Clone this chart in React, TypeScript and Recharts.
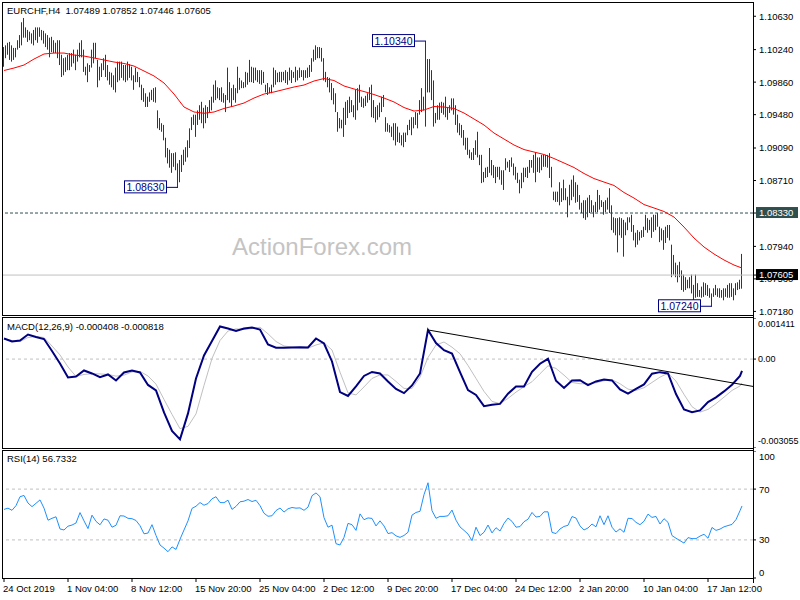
import { ComposedChart, Bar, Line, XAxis, YAxis, ReferenceLine, ReferenceDot } from 'recharts'

// H4 bars, one per slot (oldest first)
const BAR_HIGH = [
  1.1027, 1.1029, 1.1032, 1.1033, 1.1029, 1.1026, 1.1026, 1.1035, 1.1041, 1.1056,
  1.1061, 1.1050, 1.1047, 1.1045, 1.1043, 1.1047, 1.1050, 1.1050, 1.1050, 1.1047,
  1.1046, 1.1043, 1.1041, 1.1038, 1.1039, 1.1035, 1.1032, 1.1035, 1.1035, 1.1018,
  1.1014, 1.1015, 1.1018, 1.1020, 1.1020, 1.1024, 1.1018, 1.1024, 1.1032, 1.1035,
  1.1024, 1.1004, 1.1008, 1.1006, 1.1024, 1.1032, 1.1032, 1.1012, 1.1004, 1.1008,
  1.1014, 1.1018, 1.1006, 1.0998, 1.0997, 1.0994, 1.1003, 1.1010, 1.1010, 1.1010,
  1.1006, 1.1006, 1.1010, 1.1007, 1.1004, 1.0994, 1.1003, 1.0998, 1.0992, 1.0983,
  1.0979, 1.0973, 1.0969, 1.0974, 1.0977, 1.0979, 1.0980, 1.0953, 1.0944, 1.0938,
  1.0936, 1.0921, 1.0909, 1.0907, 1.0903, 1.0903, 1.0904, 1.0891, 1.0895, 1.0901,
  1.0907, 1.0910, 1.0918, 1.0932, 1.0945, 1.0948, 1.0948, 1.0953, 1.0959, 1.0963,
  1.0956, 1.0959, 1.0957, 1.0965, 1.0969, 1.0983, 1.0988, 1.0980, 1.0979, 1.0980,
  1.0973, 1.0971, 1.1003, 1.0986, 1.0979, 1.0983, 1.0979, 1.1004, 1.0991, 1.0988,
  1.0986, 1.0998, 1.0997, 1.1012, 1.1004, 1.1003, 1.1003, 1.1000, 1.1000, 1.1000,
  1.0998, 1.0983, 1.0985, 1.0980, 1.0983, 1.1003, 1.1000, 1.0997, 1.0998, 1.0998,
  1.0998, 1.1000, 1.0998, 1.1003, 1.1000, 1.0998, 1.1004, 1.1000, 1.1003, 1.1000,
  1.1000, 1.1000, 1.1003, 1.1006, 1.1014, 1.1024, 1.1029, 1.1027, 1.1027, 1.1026,
  1.1014, 1.0998, 1.0992, 1.0991, 1.0985, 1.0979, 1.0973, 1.0951, 1.0944, 1.0942,
  1.0956, 1.0963, 1.0965, 1.0969, 1.0965, 1.0959, 1.0977, 1.0979, 1.0983, 1.0969,
  1.0967, 1.0970, 1.0973, 1.0980, 1.0983, 1.0965, 1.0957, 1.0959, 1.0962, 1.0969,
  1.0971, 1.0945, 1.0938, 1.0936, 1.0934, 1.0938, 1.0938, 1.0934, 1.0927, 1.0924,
  1.0927, 1.0927, 1.0936, 1.0942, 1.0945, 1.0945, 1.0951, 1.0950, 1.0965, 1.0979,
  1.0969, 1.1034, 1.1013, 1.1013, 1.1000, 1.0988, 1.0950, 1.0959, 1.0962, 1.0963,
  1.0962, 1.0969, 1.0957, 1.0959, 1.0967, 1.0967, 1.0959, 1.0948, 1.0938, 1.0936,
  1.0930, 1.0921, 1.0921, 1.0907, 1.0904, 1.0909, 1.0918, 1.0928, 1.0901, 1.0901,
  1.0881, 1.0886, 1.0887, 1.0909, 1.0895, 1.0889, 1.0887, 1.0887, 1.0887, 1.0883,
  1.0883, 1.0897, 1.0893, 1.0895, 1.0898, 1.0891, 1.0887, 1.0880, 1.0872, 1.0880,
  1.0886, 1.0886, 1.0887, 1.0895, 1.0895, 1.0901, 1.0904, 1.0898, 1.0898, 1.0901,
  1.0901, 1.0901, 1.0901, 1.0903, 1.0887, 1.0858, 1.0858, 1.0858, 1.0869, 1.0862,
  1.0872, 1.0862, 1.0852, 1.0866, 1.0872, 1.0877, 1.0869, 1.0866, 1.0854, 1.0845,
  1.0848, 1.0848, 1.0851, 1.0854, 1.0848, 1.0842, 1.0846, 1.0860, 1.0854, 1.0848,
  1.0846, 1.0848, 1.0851, 1.0862, 1.0842, 1.0828, 1.0827, 1.0827, 1.0828, 1.0827,
  1.0825, 1.0822, 1.0828, 1.0828, 1.0831, 1.0819, 1.0810, 1.0813, 1.0811, 1.0813,
  1.0817, 1.0831, 1.0827, 1.0825, 1.0828, 1.0831, 1.0831, 1.0833, 1.0817, 1.0815,
  1.0813, 1.0817, 1.0819, 1.0819, 1.0796, 1.0784, 1.0775, 1.0772, 1.0776, 1.0766,
  1.0761, 1.0758, 1.0755, 1.0758, 1.0761, 1.0749, 1.0761, 1.0751, 1.0743, 1.0747,
  1.0752, 1.0751, 1.0749, 1.0745, 1.0739, 1.0745, 1.0749, 1.0745, 1.0745, 1.0743,
  1.0745, 1.0745, 1.0749, 1.0751, 1.0751, 1.0745, 1.0751, 1.0752, 1.0755, 1.07852,
]

const BAR_LOW = [
  1.1004, 1.1014, 1.1018, 1.1012, 1.1010, 1.1012, 1.1015, 1.1024, 1.1026, 1.1029,
  1.1038, 1.1038, 1.1033, 1.1035, 1.1031, 1.1029, 1.1035, 1.1032, 1.1039, 1.1035,
  1.1031, 1.1027, 1.1024, 1.1015, 1.1021, 1.1020, 1.1020, 1.1014, 1.1006, 1.0992,
  1.0994, 1.0998, 1.1000, 1.1000, 1.1004, 1.1008, 1.1000, 1.1010, 1.1015, 1.1015,
  1.0998, 1.0994, 1.0986, 1.0998, 1.1003, 1.1008, 1.1014, 1.0980, 1.0988, 1.0992,
  1.1000, 1.0992, 1.0988, 1.0983, 1.0980, 1.0977, 1.0974, 1.0986, 1.0988, 1.0991,
  1.0988, 1.0986, 1.0988, 1.0991, 1.0988, 1.0977, 1.0986, 1.0986, 1.0980, 1.0965,
  1.0963, 1.0957, 1.0957, 1.0963, 1.0965, 1.0963, 1.0962, 1.0932, 1.0930, 1.0928,
  1.0918, 1.0898, 1.0891, 1.0886, 1.0880, 1.0887, 1.0883, 1.0863, 1.0869, 1.0881,
  1.0889, 1.0893, 1.0898, 1.0909, 1.0930, 1.0936, 1.0922, 1.0936, 1.0942, 1.0938,
  1.0932, 1.0938, 1.0944, 1.0951, 1.0953, 1.0962, 1.0965, 1.0967, 1.0965, 1.0963,
  1.0962, 1.0951, 1.0965, 1.0962, 1.0957, 1.0965, 1.0962, 1.0973, 1.0977, 1.0979,
  1.0979, 1.0980, 1.0983, 1.0986, 1.0986, 1.0985, 1.0988, 1.0986, 1.0984, 1.0983,
  1.0985, 1.0974, 1.0971, 1.0973, 1.0973, 1.0980, 1.0983, 1.0986, 1.0986, 1.0986,
  1.0988, 1.0985, 1.0983, 1.0988, 1.0985, 1.0991, 1.0986, 1.0988, 1.0991, 1.0992,
  1.0988, 1.0991, 1.0991, 1.0992, 1.0998, 1.1010, 1.1012, 1.1014, 1.1014, 1.1010,
  1.0988, 1.0986, 1.0980, 1.0974, 1.0965, 1.0960, 1.0951, 1.0928, 1.0932, 1.0932,
  1.0922, 1.0936, 1.0944, 1.0950, 1.0951, 1.0945, 1.0942, 1.0953, 1.0962, 1.0957,
  1.0956, 1.0958, 1.0962, 1.0965, 1.0945, 1.0944, 1.0939, 1.0942, 1.0945, 1.0951,
  1.0957, 1.0928, 1.0928, 1.0927, 1.0922, 1.0918, 1.0912, 1.0916, 1.0915, 1.0912,
  1.0910, 1.0916, 1.0924, 1.0930, 1.0924, 1.0932, 1.0936, 1.0932, 1.0948, 1.0951,
  1.0953, 1.0934, 1.0974, 1.0974, 1.0965, 1.0934, 1.0938, 1.0942, 1.0942, 1.0950,
  1.0948, 1.0945, 1.0942, 1.0950, 1.0953, 1.0948, 1.0936, 1.0927, 1.0924, 1.0921,
  1.0912, 1.0907, 1.0901, 1.0897, 1.0895, 1.0895, 1.0901, 1.0898, 1.0889, 1.0868,
  1.0869, 1.0874, 1.0875, 1.0880, 1.0877, 1.0874, 1.0868, 1.0875, 1.0872, 1.0866,
  1.0860, 1.0883, 1.0886, 1.0881, 1.0887, 1.0877, 1.0872, 1.0868, 1.0856, 1.0862,
  1.0869, 1.0875, 1.0874, 1.0880, 1.0886, 1.0880, 1.0869, 1.0881, 1.0880, 1.0883,
  1.0887, 1.0887, 1.0886, 1.0874, 1.0863, 1.0848, 1.0846, 1.0846, 1.0842, 1.0846,
  1.0848, 1.0848, 1.0828, 1.0842, 1.0848, 1.0852, 1.0845, 1.0846, 1.0837, 1.0833,
  1.0827, 1.0825, 1.0828, 1.0833, 1.0834, 1.0828, 1.0834, 1.0834, 1.0837, 1.0840,
  1.0831, 1.0834, 1.0837, 1.0833, 1.0813, 1.0810, 1.0807, 1.0787, 1.0807, 1.0804,
  1.0782, 1.0807, 1.0813, 1.0822, 1.0811, 1.0801, 1.0793, 1.0796, 1.0801, 1.0804,
  1.0805, 1.0813, 1.0810, 1.0813, 1.0804, 1.0811, 1.0813, 1.0817, 1.0799, 1.0801,
  1.0790, 1.0798, 1.0804, 1.0801, 1.0758, 1.0761, 1.0758, 1.0752, 1.0758, 1.0743,
  1.0741, 1.0743, 1.0745, 1.0745, 1.0739, 1.0731, 1.0734, 1.0735, 1.0735, 1.0734,
  1.0735, 1.0737, 1.0736, 1.0734, 1.0724, 1.0735, 1.0737, 1.0735, 1.0734, 1.0734,
  1.0731, 1.0735, 1.0734, 1.0734, 1.0735, 1.0731, 1.0737, 1.0743, 1.0744, 1.07446,
]

// moving average, read every 5th bar (+ last bar)
const EMA_STEP = 5
const EMA = [
  1.09996, 1.10025, 1.1006, 1.1013, 1.10189, 1.102, 1.102, 1.10177, 1.10165, 1.10142,
  1.10119, 1.10095, 1.10078, 1.10048, 1.0999, 1.09932, 1.0985, 1.09721, 1.09569, 1.09511,
  1.09496, 1.09511, 1.09552, 1.09581, 1.09616, 1.09674, 1.09721, 1.09745, 1.09774, 1.09803,
  1.09826, 1.09873, 1.09902, 1.09879, 1.09815, 1.0978, 1.0975, 1.09715, 1.09674, 1.09628,
  1.09563, 1.09522, 1.09534, 1.09575, 1.09569, 1.09552, 1.09499, 1.09429, 1.09359, 1.09265,
  1.09195, 1.09125, 1.09072, 1.09043, 1.09014, 1.08967, 1.08915, 1.08862, 1.08792, 1.08733,
  1.08692, 1.08652, 1.0857, 1.08505, 1.08429, 1.08389, 1.08348, 1.08283, 1.08166, 1.08038,
  1.07933, 1.07851, 1.07781, 1.07722, 1.07687,
]

// MACD(12,26,9), read every 4th bar (+ last bar)
const MACD_STEP = 4
const MACD_MAIN = [
  0.000707, 0.000604, 0.000638, 0.000844, 0.000758, 0.000689, 0.000278, -0.000151, -0.000631, -0.000597,
  -0.000391, -0.000494, -0.000621, -0.000528, -0.000734, -0.00046, -0.000391, -0.00046, -0.000888, -0.001077,
  -0.001832, -0.002466, -0.002758, -0.001866, -0.000665, 0.000123, 0.000621, 0.001118, 0.00105, 0.000964,
  0.00105, 0.001084, 0.001015, 0.000501, 0.000388, 0.000388, 0.000398, 0.000408, 0.000398, 0.000707,
  0.000535, -0.000082, -0.001135, -0.001266, -0.00094, -0.00058, -0.000442, -0.000494, -0.000768, -0.001026,
  -0.00117, -0.000906, -0.000494, 0.000998, 0.000552, 0.000305, 0.000192, -0.000449, -0.001067, -0.001231,
  -0.001616, -0.001568, -0.00154, -0.00119, -0.00094, -0.00094, -0.000436, -0.000161, 0.00001, -0.000744,
  -0.000991, -0.000734, -0.000724, -0.000895, -0.000768, -0.0007, -0.000734, -0.001043, -0.00119, -0.001026,
  -0.000871, -0.000504, -0.000449, -0.000494, -0.001201, -0.001729, -0.001825, -0.001763, -0.001478, -0.001317,
  -0.001111, -0.000882, -0.00058, -0.000408,
]
const MACD_SIGNAL = [
  0.000689, 0.000638, 0.000604, 0.000741, 0.000775, 0.000741, 0.000449, 0.000141, -0.000271, -0.000597,
  -0.000528, -0.000504, -0.000511, -0.000528, -0.000587, -0.000552, -0.000442, -0.000425, -0.00058, -0.000861,
  -0.001386, -0.0019, -0.002391, -0.002312, -0.001883, -0.000906, 0.000021, 0.000638, 0.000964, 0.001039,
  0.001015, 0.00105, 0.001094, 0.000868, 0.000604, 0.000449, 0.000415, 0.000391, 0.000374, 0.000484,
  0.000559, 0.000312, -0.000449, -0.001163, -0.001231, -0.000957, -0.000665, -0.000545, -0.000545, -0.000768,
  -0.001008, -0.001008, -0.000621, 0.000055, 0.000484, 0.000587, 0.000408, 0.000182, -0.00022, -0.000665,
  -0.001111, -0.001454, -0.001533, -0.001351, -0.001135, -0.00095, -0.000779, -0.000504, -0.00023, -0.000322,
  -0.000552, -0.000803, -0.000847, -0.000847, -0.000813, -0.000744, -0.00071, -0.000847, -0.001032, -0.001077,
  -0.000984, -0.000803, -0.000621, -0.000484, -0.000758, -0.001214, -0.001636, -0.001821, -0.001729, -0.001533,
  -0.001307, -0.001077, -0.000923, -0.000818,
]

// RSI(14), read every 2nd bar (+ last bar)
const RSI_STEP = 2
const RSI = [
  54, 55, 53.3, 57, 64, 65, 59, 56.2, 58.8, 61.5,
  55, 45.5, 47, 48.2, 38.6, 37.8, 40.8, 41.7, 43.3, 51.5,
  45, 38.9, 49.5, 44.6, 41.9, 46.5, 45.5, 40, 41.5, 49,
  48.8, 47, 46.7, 45.3, 41.2, 34.8, 35.4, 42, 33.5, 26,
  23.5, 20.7, 24.5, 22.5, 30.5, 37.8, 45, 54.8, 56.5, 59.4,
  57.3, 58.6, 62.4, 64, 59.4, 59.3, 61.3, 54, 56.4, 60,
  60.5, 61.8, 60.2, 61.2, 57, 51, 48.6, 49, 53.1, 55.1,
  51.9, 54.5, 55.5, 55, 55.2, 53.3, 55.8, 64.8, 67, 64,
  47.5, 40, 41.6, 27, 26, 32, 43, 42, 37.5, 50.5,
  45.9, 47.3, 46.9, 41, 45, 41, 35, 35.7, 33.2, 32,
  33.5, 36, 49.5, 51.6, 52.5, 65.6, 75, 53, 47, 48.5,
  48.5, 49, 53.5, 45.5, 40.2, 37.5, 34.6, 29.4, 40, 33.4,
  36, 41.7, 35.5, 39.6, 37, 43, 47.2, 44.6, 40, 40.5,
  44.3, 46.3, 51.6, 48, 48.5, 52.1, 52.1, 35.9, 35, 38.6,
  40.6, 41.5, 48.4, 47.2, 41, 37.8, 39.4, 42.5, 40.3, 49,
  42, 49, 40, 36.2, 38.7, 36, 47, 46.8, 43.8, 42,
  44.7, 50.3, 47.7, 48.5, 42.5, 46.7, 43.8, 33.4, 31.3, 29.4,
  27.5, 31.8, 31, 31, 33, 34.4, 31.3, 39.8, 37.5, 38.5,
  40.3, 41.3, 42.2, 46, 53, 56.73,
]

const TIME_TICKS = [0, 32, 64, 96, 128, 160, 192, 224, 256, 288, 320, 352]
const TIME_LABELS = [
  '24 Oct 2019', '1 Nov 04:00', '8 Nov 12:00', '15 Nov 20:00', '25 Nov 04:00', '2 Dec 12:00',
  '9 Dec 20:00', '17 Dec 04:00', '24 Dec 12:00', '2 Jan 20:00', '10 Jan 04:00', '17 Jan 12:00',
]

const RESIST = 1.0833
const LAST_PRICE = 1.07605
const PRICE_TICKS = [1.1063, 1.1024, 1.0986, 1.0948, 1.0909, 1.0871, 1.0833, 1.0794, 1.0756, 1.0718, LAST_PRICE]
const PIVOTS = [
  { bar: 211, price: 1.1034 },
  { bar: 87, price: 1.0863 },
  { bar: 354, price: 1.0724 },
]
const MACD_MAX = 0.001411
const MACD_MIN = -0.003055
const MACD_TREND = [
  { x: 212, y: 0.001 },
  { x: 374.5, y: -0.00094 },
]

const FONT = "'Liberation Sans', Arial, sans-serif"
const BAR_COLOR = '#14405c'
const X_DOMAIN: [number, number] = [-0.5, 374.5]
const lastBar = BAR_HIGH.length - 1

const mainData = BAR_HIGH.map((h, i) => ({
  u: i,
  hl: [BAR_LOW[i], h],
  ema: i % EMA_STEP === 0 ? EMA[i / EMA_STEP] : i === lastBar ? EMA[EMA.length - 1] : undefined,
}))

const slot = (k: number, len: number, step: number) => (k === len - 1 ? lastBar : k * step)

const macdData = MACD_MAIN.map((m, k) => ({
  u: slot(k, MACD_MAIN.length, MACD_STEP),
  macd: m,
  signal: MACD_SIGNAL[k],
}))

const rsiData = RSI.map((r, k) => ({ u: slot(k, RSI.length, RSI_STEP), rsi: r }))

function HLBar(props: any) {
  const { x, y, width, height } = props
  if (x == null || y == null) return null
  const top = Math.min(y, y + height)
  const h = Math.max(1, Math.abs(height))
  return <rect x={Math.round(x + width / 2 - 0.5)} y={top} width={1} height={h} fill={BAR_COLOR} />
}

function PriceTick(props: any) {
  const { x, y, payload } = props
  const v = payload.value as number
  const txt = v.toFixed(5)
  if (v === RESIST || v === LAST_PRICE) {
    return (
      <g>
        <rect x={x - 2} y={y - 6} width={42} height={11} fill={v === RESIST ? '#2f4f4f' : '#000'} />
        <text x={x + 1} y={y + 3.4} fontSize={9.5} fill="#fff">{txt}</text>
      </g>
    )
  }
  return <text x={x + 1} y={y + 3.4} fontSize={9.5} fill="#000">{txt}</text>
}

function MacdTick(props: any) {
  const { x, y, payload } = props
  const v = payload.value as number
  const shift = v === MACD_MAX ? 6 : v === MACD_MIN ? -7 : 0
  const txt = v === 0 ? '0.00' : v.toFixed(6)
  return <text x={x} y={y + shift + 3.3} fontSize={9} fill="#000">{txt}</text>
}

function RsiTick(props: any) {
  const { x, y, payload } = props
  const v = payload.value as number
  const shift = v === 100 ? 5.5 : v === 0 ? -5 : 0
  return <text x={x + 1} y={y + shift + 3.4} fontSize={9.5} fill="#000">{v}</text>
}

function TimeTick(props: any) {
  const { x, y, index } = props
  return <text x={x - 1} y={y + 8} fontSize={9.5} fill="#000" textAnchor="start">{TIME_LABELS[index]}</text>
}

function PivotTag(props: any) {
  const { cx, cy, text } = props
  return (
    <g>
      <line x1={cx - 11} y1={cy} x2={cx} y2={cy} stroke="#000080" />
      <rect x={cx - 53.5} y={cy - 6.5} width={42} height={12} fill="#fff" stroke="#000080" />
      <text x={cx - 32.5} y={cy + 3.7} fontSize={10.5} fill="#000080" textAnchor="middle">{text}</text>
    </g>
  )
}

const frame = (top: number, height: number) => ({
  position: 'absolute' as const,
  left: 2,
  top,
  width: 752,
  height,
  border: '1px solid #000',
  boxSizing: 'border-box' as const,
  pointerEvents: 'none' as const,
})

export default function App() {
  return (
    <div style={{ position: 'absolute', left: 0, top: 0, width: 800, height: 600, background: '#fff', fontFamily: FONT, overflow: 'hidden' }}>
      <svg width={800} height={600} style={{ position: 'absolute', left: 0, top: 0 }}>
        <text x={232} y={255} fontSize={24} fill="#c4c4c4">ActionForex.com</text>
      </svg>

      <div style={{ position: 'absolute', left: 0, top: 0 }}>
        <ComposedChart width={800} height={316} data={mainData} margin={{ top: 3, right: 0, bottom: 1, left: 3 }}>
          <XAxis type="number" dataKey="u" domain={X_DOMAIN} allowDataOverflow hide />
          <YAxis
            orientation="right"
            type="number"
            domain={[1.07138, 1.10785]}
            allowDataOverflow
            ticks={PRICE_TICKS}
            interval={0}
            width={47}
            axisLine={false}
            tickLine={{ stroke: '#000' }}
            tickSize={3}
            tick={<PriceTick />}
          />
          <ReferenceLine y={LAST_PRICE} stroke="#c0c0c0" />
          <ReferenceLine y={RESIST} stroke="#2f4f4f" strokeDasharray="3 2" />
          <Bar dataKey="hl" barSize={1} shape={<HLBar />} isAnimationActive={false} />
          <Line dataKey="ema" stroke="#ff0000" strokeWidth={1} dot={false} connectNulls isAnimationActive={false} />
          {PIVOTS.map((p) => (
            <ReferenceDot
              key={p.bar}
              x={p.bar}
              y={p.price}
              shape={(s: any) => <PivotTag cx={s.cx} cy={s.cy} text={p.price.toFixed(5)} />}
            />
          ))}
        </ComposedChart>
      </div>

      <div style={{ position: 'absolute', left: 0, top: 318 }}>
        <ComposedChart width={800} height={130} data={macdData} margin={{ top: 0, right: 0, bottom: 0, left: 3 }}>
          <XAxis type="number" dataKey="u" domain={X_DOMAIN} allowDataOverflow hide />
          <YAxis
            orientation="right"
            type="number"
            domain={[MACD_MIN, MACD_MAX]}
            allowDataOverflow
            ticks={[MACD_MAX, 0, MACD_MIN]}
            interval={0}
            width={47}
            axisLine={false}
            tickLine={{ stroke: '#000' }}
            tickSize={3}
            tick={<MacdTick />}
          />
          <ReferenceLine y={0} stroke="#c0c0c0" strokeDasharray="3 3" />
          <Line dataKey="signal" stroke="#c0c0c0" strokeWidth={1} dot={false} isAnimationActive={false} />
          <Line dataKey="macd" stroke="#000080" strokeWidth={2} dot={false} isAnimationActive={false} />
          <ReferenceLine segment={MACD_TREND} stroke="#000" strokeWidth={1} />
        </ComposedChart>
      </div>

      <div style={{ position: 'absolute', left: 0, top: 451 }}>
        <ComposedChart width={800} height={149} data={rsiData} margin={{ top: 0, right: 0, bottom: 0, left: 3 }}>
          <XAxis
            type="number"
            dataKey="u"
            domain={X_DOMAIN}
            allowDataOverflow
            ticks={TIME_TICKS}
            interval={0}
            height={22}
            axisLine={false}
            tickLine={{ stroke: '#000' }}
            tickSize={4}
            tick={<TimeTick />}
          />
          <YAxis
            orientation="right"
            type="number"
            domain={[0, 100]}
            allowDataOverflow
            ticks={[100, 70, 30, 0]}
            interval={0}
            width={47}
            axisLine={false}
            tickLine={{ stroke: '#000' }}
            tickSize={3}
            tick={<RsiTick />}
          />
          <ReferenceLine y={70} stroke="#c0c0c0" strokeDasharray="3 3" />
          <ReferenceLine y={30} stroke="#c0c0c0" strokeDasharray="3 3" />
          <Line dataKey="rsi" stroke="#1e90ff" strokeWidth={1} dot={false} isAnimationActive={false} />
        </ComposedChart>
      </div>

      <div style={frame(2, 314)} />
      <div style={frame(317, 132)} />
      <div style={frame(450, 129)} />
      <div style={{ position: 'absolute', left: 753, top: 2, width: 1, height: 581, background: '#000' }} />

      <svg width={800} height={600} style={{ position: 'absolute', left: 0, top: 0, pointerEvents: 'none' }}>
        <text x={7} y={14} fontSize={9.5} fill="#000" style={{ whiteSpace: 'pre' }}>
          {'EURCHF,H4  1.07489 1.07852 1.07446 1.07605'}
        </text>
        <text x={7} y={330} fontSize={9.5} fill="#000">MACD(12,26,9) -0.000408 -0.000818</text>
        <text x={7} y={462} fontSize={9.5} fill="#000">RSI(14) 56.7332</text>
      </svg>
    </div>
  )
}
